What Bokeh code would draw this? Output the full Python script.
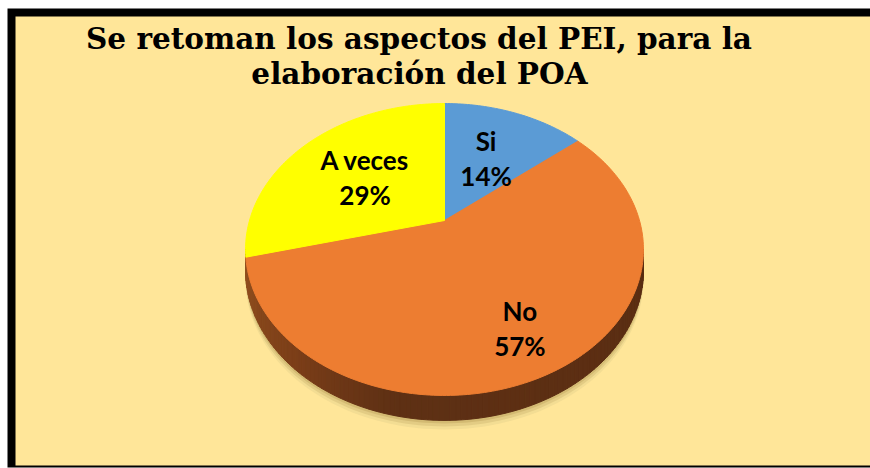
import numpy as np
from bokeh.plotting import figure
from bokeh.models import Range1d, ColumnDataSource
from bokeh.core.properties import value
from bokeh.embed import file_html
from bokeh.resources import INLINE

# ---- data ----
categories = ["Si", "No", "A veces"]
percentages = [14, 57, 29]
slice_colors = ["#5B9BD5", "#ED7D31", "#FFFF00"]
title_lines = ["Se retoman los aspectos del PEI, para la", "elaboración del POA"]

# ---- layout / style constants ----
CX, CY = 444.0, 220.0             # projected pie centre (image px)
RX, RY, K = 195.0, 140.2, 0.1986  # perspective projection params
DEPTH = 20.0
label_r = [0.55, 0.74, 0.55]
BG = "#FFE699"


def proj(r, phi_deg):
    ph = np.radians(phi_deg)
    X = r * np.cos(ph)
    Z = r * np.sin(ph)
    w = 1 + K * Z
    return CX + RX * X / w, CY - RY * Z / w


def wall_dy(phi_deg):
    return DEPTH / (1 + K * np.sin(np.radians(phi_deg)))


def hex2rgb(h):
    h = h.lstrip("#")
    return [int(h[i:i + 2], 16) for i in (0, 2, 4)]


def grad(t):
    stops = [(0.0, "#94511F"), (0.25, "#7A3D18"), (0.42, "#5E3014"), (1.0, "#5A2D12")]
    for (t0, c0), (t1, c1) in zip(stops[:-1], stops[1:]):
        if t <= t1:
            f = (t - t0) / (t1 - t0) if t1 > t0 else 0
            a, b = hex2rgb(c0), hex2rgb(c1)
            return "#%02x%02x%02x" % tuple(int(round(a[i] + (b[i] - a[i]) * f)) for i in range(3))
    return stops[-1][1]


p = figure(width=870, height=468, output_backend="svg", toolbar_location=None,
           x_range=Range1d(0, 870), y_range=Range1d(468, 0),
           x_axis_location=None, y_axis_location=None,
           min_border=0, min_border_left=0, min_border_top=0,
           min_border_right=0, min_border_bottom=0,
           border_fill_color="white", background_fill_color="white",
           outline_line_color=None)
p.grid.grid_line_color = None

# ---- frame: black border and yellow panel ----
p.quad(left=[7], right=[880], top=[8], bottom=[467], fill_color="black", line_color=None)
p.quad(left=[15], right=[880], top=[16], bottom=[465], fill_color=BG, line_color=None)

# ---- shadow ----
phis = np.linspace(0, 360, 241)
bx, by = proj(1.0, phis)
bdy = wall_dy(phis)
for off, col, al in [(9, "#E8D38E", 0.5), (6, "#D9C27A", 0.6), (3, "#C8AE66", 0.6)]:
    p.patch(list(bx), list(by + bdy + off), fill_color=col, fill_alpha=al, line_color=None)

# ---- side wall ----
phi_l = 180 + np.degrees(np.arcsin(K))
phi_r = 360 - np.degrees(np.arcsin(K))
wp = np.linspace(phi_l, phi_r, 121)
wx, wy = proj(1.0, wp)
wd = wall_dy(wp)
xs, ys, cols = [], [], []
for i in range(len(wp) - 1):
    xs.append([wx[i], wx[i + 1], wx[i + 1], wx[i]])
    ys.append([wy[i], wy[i + 1], wy[i + 1] + wd[i + 1], wy[i] + wd[i]])
    cols.append(grad((wp[i] - phi_l) / (phi_r - phi_l)))
p.patches(xs, ys, fill_color=cols, line_color=cols, line_width=1)

# ---- top face slices ----
total = float(sum(percentages))
start = 90.0
sx, sy, lx, ly = [], [], [], []
for i, v in enumerate(percentages):
    span = 360.0 * v / total
    end = start - span
    arc = np.linspace(start, end, max(int(span), 2) + 1)
    ax_, ay_ = proj(1.0, arc)
    sx.append([CX] + list(ax_))
    sy.append([CY] + list(ay_))
    mx, my = proj(label_r[i], (start + end) / 2)
    lx.append(mx)
    ly.append(my)
    start = end
p.patches(sx, sy, fill_color=slice_colors, line_color=slice_colors, line_width=1)

# ---- labels ----
src = ColumnDataSource(dict(x=lx, y=ly, cat=categories,
                            pct=["%d%%" % v for v in percentages]))
p.text(x="x", y="y", text="cat", source=src, y_offset=-16, text_align="center",
       text_baseline="alphabetic", text_font=value("Lato"), text_font_style="bold",
       text_font_size="26px", text_color="black")
p.text(x="x", y="y", text="pct", source=src, y_offset=19, text_align="center",
       text_baseline="alphabetic", text_font=value("Lato"), text_font_style="bold",
       text_font_size="26px", text_color="black")

# ---- title ----
p.text(x=[418.5, 419], y=[38, 73], text=title_lines, text_align="center",
       text_baseline="alphabetic", text_font=value("DejaVu Serif"), text_font_style="bold",
       text_font_size="29.5px", text_color="black")

open("out.html", "w").write(file_html(p, INLINE))
